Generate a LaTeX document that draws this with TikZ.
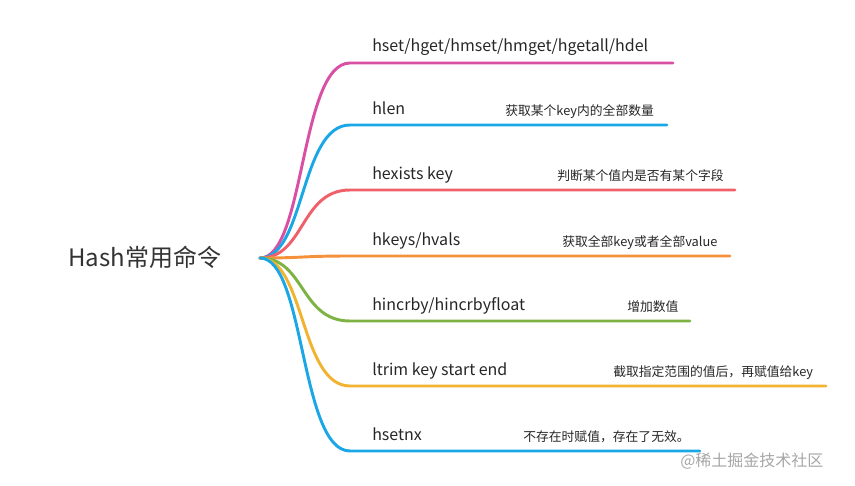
\documentclass[tikz,border=0pt]{standalone}
\usepackage{fontspec}
\setmainfont{Noto Sans CJK SC}
\usepackage{tikz}
\usetikzlibrary{positioning,calc}
\definecolor{cmag}{HTML}{D94FA3}
\definecolor{cblue}{HTML}{1BA7E6}
\definecolor{cred}{HTML}{F0606B}
\definecolor{corange}{HTML}{F5913A}
\definecolor{cgreen}{HTML}{7CB342}
\definecolor{cyellow}{HTML}{F2B330}

\begin{document}
\begin{tikzpicture}[
    x=0.75pt, y=-0.75pt,
    cmd/.style={anchor=base west, font=\fontsize{12}{14}\selectfont, text=black!85, inner sep=0pt},
    note/.style={anchor=base west, font=\fontsize{9.6}{11}\selectfont, text=black!85, inner sep=0pt},
    branch/.style={line width=2.2pt, line cap=round}
]
\useasboundingbox (0,0) rectangle (855,485);

\node[anchor=west, font=\fontsize{18}{20}\selectfont, text=black!80, inner sep=0pt] (root) at (68,257) {Hash常用命令};
\coordinate (hub) at (260,258);

% branches: y, end x, colour, command, note x, note
\foreach \y/\xe/\col/\txt/\nx/\nt [count=\i] in {
    63/673/cmag/{hset/hget/hmset/hmget/hgetall/hdel}/0/{},
    125/667/cblue/hlen/505/{获取某个key内的全部数量},
    190/735/cred/{hexists key}/557/{判断某个值内是否有某个字段},
    256/730/corange/{hkeys/hvals}/562/{获取全部key或者全部value},
    321/690/cgreen/{hincrby/hincrbyfloat}/627/{增加数值},
    386/826/cyellow/{ltrim key start end}/613/{截取指定范围的值后，再赋值给key},
    451/700/cblue/hsetnx/523/{不存在时赋值，存在了无效。}} {
  \coordinate (s\i) at (350,\y);
  \coordinate (e\i) at (\xe,\y);
  \draw[branch, \col] (hub) .. controls (305,258) and (300,\y) .. (s\i) -- (e\i);
  \node[cmd] (cmd\i) at (372,\y-11) {\txt};
  \node[note] (note\i) at (\nx,\y-10) {\nt};
}

\node[anchor=base west, font=\fontsize{12}{14}\selectfont, text=black!35, inner sep=0pt] (mark) at (680,466) {@稀土掘金技术社区};
\end{tikzpicture}
\end{document}
